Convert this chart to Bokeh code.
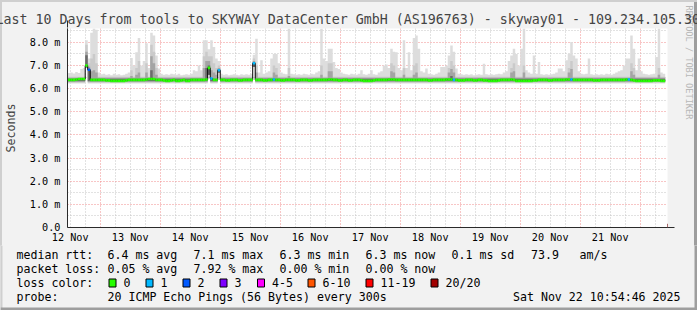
import datetime as dt
from bokeh.plotting import figure
from bokeh.layouts import column
from bokeh.models import (FixedTicker, DatetimeTickFormatter, Title, Arrow, NormalHead,
                          ColumnDataSource, Range1d)
from bokeh.core.properties import value
from bokeh.embed import file_html
from bokeh.resources import INLINE

# ---------------------------------------------------------------- data
TITLE = "Last 10 Days from tools to SKYWAY DataCenter GmbH (AS196763) - skyway01 - 109.234.105.30"
END = dt.datetime(2025, 11, 22, 10, 54, 46)
START = END - dt.timedelta(days=10)
FIRST_BIN = dt.datetime(2025, 11, 12, 11, 0, 0)   # start of the first hourly column

day_labels = ["12 Nov", "13 Nov", "14 Nov", "15 Nov", "16 Nov",
              "17 Nov", "18 Nov", "19 Nov", "20 Nov", "21 Nov"]
y_tick_values = [0, 1, 2, 3, 4, 5, 6, 7, 8]
y_tick_labels = ["0.0", "1.0 m", "2.0 m", "3.0 m", "4.0 m", "5.0 m", "6.0 m", "7.0 m", "8.0 m"]

# median rtt per hour (ms)
median_ms = [
    6.38, 6.38, 6.38, 6.40, 6.42, 6.42, 6.42, 7.00, 6.82, 6.38,
    6.38, 6.38, 6.38, 6.38, 6.38, 6.36, 6.36, 6.34, 6.34, 6.34,
    6.34, 6.34, 6.34, 6.36, 6.38, 6.38, 6.38, 6.38, 6.38, 6.38,
    6.38, 6.40, 6.42, 6.42, 6.42, 6.38, 6.38, 6.38, 6.36, 6.34,
    6.34, 6.36, 6.38, 6.34, 6.34, 6.36, 6.38, 6.34, 6.34, 6.38,
    6.38, 6.38, 6.38, 6.38, 6.38, 6.40, 6.90, 6.44, 6.38, 6.38,
    6.80, 6.38, 6.38, 6.36, 6.36, 6.38, 6.38, 6.38, 6.36, 6.36,
    6.38, 6.38, 6.38, 6.38, 7.10, 6.38, 6.38, 6.38, 6.36, 6.36,
    6.38, 6.38, 6.40, 6.38, 6.38, 6.36, 6.36, 6.38, 6.38, 6.38,
    6.38, 6.36, 6.36, 6.38, 6.38, 6.38, 6.36, 6.36, 6.38, 6.38,
    6.38, 6.38, 6.38, 6.38, 6.40, 6.40, 6.38, 6.38, 6.36, 6.36,
    6.38, 6.38, 6.36, 6.36, 6.38, 6.38, 6.38, 6.36, 6.34, 6.34,
    6.34, 6.34, 6.36, 6.38, 6.38, 6.38, 6.38, 6.38, 6.40, 6.40,
    6.40, 6.38, 6.38, 6.38, 6.38, 6.38, 6.38, 6.38, 6.38, 6.38,
    6.38, 6.38, 6.38, 6.38, 6.36, 6.36, 6.38, 6.38, 6.38, 6.38,
    6.38, 6.40, 6.40, 6.40, 6.38, 6.38, 6.36, 6.36, 6.36, 6.38,
    6.38, 6.38, 6.36, 6.36, 6.38, 6.38, 6.36, 6.36, 6.34, 6.34,
    6.34, 6.34, 6.36, 6.38, 6.38, 6.38, 6.38, 6.40, 6.38, 6.34,
    6.34, 6.34, 6.34, 6.34, 6.34, 6.34, 6.36, 6.36, 6.38, 6.38,
    6.38, 6.38, 6.36, 6.36, 6.38, 6.38, 6.38, 6.38, 6.38, 6.40,
    6.40, 6.40, 6.38, 6.38, 6.38, 6.38, 6.38, 6.38, 6.38, 6.38,
    6.36, 6.36, 6.36, 6.38, 6.38, 6.38, 6.38, 6.38, 6.38, 6.38,
    6.38, 6.38, 6.38, 6.40, 6.40, 6.38, 6.36, 6.34, 6.34, 6.34,
    6.34, 6.34, 6.34, 6.34, 6.36, 6.36, 6.36, 6.34, 6.34,
]

# slowest ping per hour (top of the lightest smoke, ms)
smoke_max = [
    6.68, 6.70, 6.66, 6.72, 6.68, 6.85, 6.90, 8.09, 7.30, 8.42,
    8.60, 8.55, 6.70, 6.62, 6.65, 6.60, 6.62, 6.58, 6.65, 6.60,
    6.62, 6.58, 6.60, 6.65, 6.70, 7.33, 7.00, 7.58, 8.19, 7.00,
    7.20, 7.96, 6.90, 8.42, 8.30, 7.44, 6.87, 6.65, 6.60, 6.62,
    6.60, 6.65, 6.62, 6.60, 6.65, 6.58, 6.60, 6.62, 6.60, 6.65,
    6.80, 6.75, 7.00, 6.80, 8.09, 8.09, 7.70, 8.09, 7.80, 7.30,
    7.20, 6.65, 6.60, 6.62, 6.58, 6.60, 6.62, 6.60, 6.58, 6.62,
    6.60, 6.62, 6.60, 6.65, 7.47, 8.16, 6.70, 7.23, 6.65, 6.70,
    6.75, 7.30, 7.50, 7.50, 7.10, 6.70, 6.65, 6.62, 8.60, 6.65,
    6.62, 6.60, 6.62, 6.60, 6.65, 6.62, 6.60, 6.65, 6.62, 6.70,
    6.75, 8.60, 7.30, 7.20, 7.73, 7.73, 7.15, 6.90, 6.85, 6.70,
    6.65, 6.62, 6.60, 6.65, 6.62, 6.60, 6.65, 6.80, 6.62, 6.60,
    6.65, 6.80, 6.62, 6.60, 6.70, 6.75, 7.00, 7.05, 6.90, 7.73,
    7.60, 7.58, 6.90, 6.80, 8.09, 6.90, 7.58, 6.80, 8.19, 8.30,
    7.73, 6.75, 6.70, 6.87, 6.65, 6.62, 6.60, 6.65, 6.70, 6.94,
    6.94, 7.00, 7.44, 7.87, 7.60, 6.87, 6.65, 6.62, 6.60, 6.62,
    6.60, 6.62, 6.58, 6.60, 6.62, 6.60, 7.08, 6.62, 6.60, 6.62,
    6.60, 6.62, 6.65, 6.62, 6.70, 6.75, 7.20, 7.44, 7.73, 7.50,
    7.00, 7.73, 8.60, 6.80, 6.70, 6.65, 7.44, 6.65, 7.15, 6.62,
    6.60, 6.62, 6.60, 6.62, 6.65, 6.70, 6.87, 6.87, 6.75, 7.23,
    7.50, 8.02, 7.44, 7.30, 6.75, 6.65, 6.62, 6.65, 7.30, 6.62,
    6.60, 6.62, 6.60, 6.62, 6.60, 6.65, 6.62, 6.60, 6.65, 6.70,
    6.75, 6.80, 7.00, 7.30, 7.30, 8.30, 7.73, 6.80, 7.30, 6.75,
    6.65, 6.62, 6.60, 6.62, 6.65, 7.37, 8.60, 6.70, 6.65,
]

# inner smoke levels: usual value and the hours where they rise (ms)
ping19_usual, ping17_usual, ping14_usual = 6.52, 6.47, 6.43
ping19_peaks = {7: 7.9, 8: 7.1, 9: 7.3, 10: 7.5, 11: 7.1, 25: 6.8, 27: 6.9, 28: 7.2, 31: 7.1,
                33: 7.9, 34: 7.6, 35: 6.9, 54: 7.4, 55: 7.6, 56: 7.4, 57: 7.4, 58: 7.1, 59: 6.9,
                60: 7.0, 74: 7.3, 75: 7.0, 82: 7.0, 83: 6.9, 88: 6.9, 101: 7.0, 104: 7.1,
                105: 7.1, 129: 7.1, 130: 7.0, 134: 6.9, 138: 7.0, 139: 7.1, 152: 6.9, 153: 7.2,
                154: 7.0, 177: 6.9, 178: 7.1, 182: 7.0, 200: 6.9, 201: 7.2, 225: 7.1, 226: 6.9,
                236: 6.9}
ping17_peaks = {7: 7.6, 8: 6.95, 9: 6.75, 10: 6.8, 11: 6.7, 25: 6.55, 27: 6.6, 28: 6.7, 31: 6.7,
                33: 7.4, 34: 7.1, 35: 6.6, 54: 6.9, 55: 7.2, 56: 7.2, 57: 6.8, 58: 6.7, 59: 6.6,
                60: 6.9, 74: 7.2, 75: 6.7, 82: 6.7, 83: 6.6, 88: 6.55, 101: 6.6, 104: 6.75,
                105: 6.75, 129: 6.75, 130: 6.7, 134: 6.6, 138: 6.6, 139: 6.7, 152: 6.7, 153: 6.85,
                154: 6.7, 177: 6.7, 178: 6.75, 182: 6.7, 200: 6.7, 201: 6.85, 225: 6.75, 226: 6.6,
                236: 6.6}
ping14_peaks = {7: 7.45, 8: 6.85, 33: 6.8, 55: 6.9, 56: 7.0, 60: 6.85, 74: 7.15, 153: 6.55}
# fastest pings: usual values and the hours where the whole smoke lifted
ping1_usual, ping2_usual, ping4_usual, ping7_usual = 6.23, 6.26, 6.29, 6.33
ping_floor_lifts = {7: 6.92, 56: 6.6, 60: 6.7, 74: 6.95}

# lost pings (of 20) per hour, only hours with loss
loss_hours = {8: 2, 57: 1, 60: 1, 74: 1, 82: 1, 154: 1, 201: 1, 224: 1}

loss_legend = ["0", "1", "2", "3", "4-5", "6-10", "11-19", "20/20"]
loss_colors = ["#26ff00", "#00b8ff", "#0059ff", "#7e00ff", "#ff00ff", "#ff5500", "#ff0000", "#a10000"]
loss_bins = [0, 1, 2, 3, 5, 10, 19, 20]   # upper bound of each legend class

legend_rtt = ["median rtt:", "6.4 ms avg", "7.1 ms max", "6.3 ms min", "6.3 ms now",
              "0.1 ms sd", "73.9", "am/s"]
legend_loss = ["packet loss:", "0.05 % avg", "7.92 % max", "0.00 % min", "0.00 % now"]
legend_probe = ["probe:", "20 ICMP Echo Pings (56 Bytes) every 300s"]
stamp = "Sat Nov 22 10:54:46 2025"
credit = "RRDTOOL / TOBI OETIKER"

# ---------------------------------------------------------------- build
EPOCH = dt.datetime(1970, 1, 1)
def ms(d):
    return (d - EPOCH).total_seconds() * 1000.0

n = len(median_ms)
hour = 3600 * 1000.0
x0 = ms(FIRST_BIN)
lefts = [x0 + k * hour for k in range(n)]
rights = [x0 + (k + 1) * hour for k in range(n)]

def level(usual, peaks):
    return [peaks.get(k, usual) for k in range(n)]

p19 = level(ping19_usual, ping19_peaks)
p17 = level(ping17_usual, ping17_peaks)
p14 = level(ping14_usual, ping14_peaks)
b1 = level(ping1_usual, ping_floor_lifts)
b2 = level(ping2_usual, ping_floor_lifts)
b4 = level(ping4_usual, ping_floor_lifts)
b7 = level(ping7_usual, ping_floor_lifts)

def loss_color(c):
    for ub, col in zip(loss_bins, loss_colors):
        if c <= ub:
            return col
    return loss_colors[-1]

colors = [loss_color(loss_hours.get(k, 0)) for k in range(n)]

xs = lefts + [rights[-1]]
def ext(a):
    return list(a) + [a[-1]]

W, H = 697, 310
FL, FR, FT, FB = 67, 667, 28, 228   # frame edges in page pixels
H1 = 245                             # height of the graph part
BG = "#f2f2f2"
MONO = "DejaVu Sans Mono"

p = figure(width=W, height=H1, x_axis_type="datetime",
           x_range=(ms(START), ms(END)), y_range=(0, (FB - FT) / 23.25),
           output_backend="svg", toolbar_location=None,
           min_border_left=FL, min_border_right=W - FR, min_border_top=FT, min_border_bottom=H1 - FB,
           background_fill_color="white", border_fill_color=None, outline_line_color=None)
p.frame_align = False

smoke_src = ColumnDataSource(dict(x=xs, b1=ext(b1), top1=ext(smoke_max), b2=ext(b2), top2=ext(p19),
                                  b4=ext(b4), top4=ext(p17), b7=ext(b7), top7=ext(p14)))
for lo, hi, col in [("b1", "top1", "#dddddd"), ("b2", "top2", "#cacaca"),
                    ("b4", "top4", "#a4a4a4"), ("b7", "top7", "#6b6b6b")]:
    p.varea_step(x="x", y1=lo, y2=hi, step_mode="after", source=smoke_src, fill_color=col)

p.step(x=xs, y=ext(median_ms), mode="after", line_color="black", line_width=1)
med_src = ColumnDataSource(dict(x0=lefts, x1=rights, y=median_ms, c=colors))
p.segment(x0="x0", y0="y", x1="x1", y1="y", line_color="c", line_width=2.6, source=med_src)

# ---------------------------------------------------------------- axes & grid
days = [dt.datetime(2025, 11, 12) + dt.timedelta(days=i) for i in range(11)]
noons = [ms(d + dt.timedelta(hours=12)) for d in days[:len(day_labels)]]
midnights = [ms(d) for d in days[1:]]
six_h = []
t = dt.datetime(2025, 11, 12, 12)
while t < END:
    if t.hour != 0:
        six_h.append(ms(t))
    t += dt.timedelta(hours=6)

xa = p.xaxis[0]
xa.ticker = FixedTicker(ticks=noons, minor_ticks=[])
xa.formatter = DatetimeTickFormatter(hours="%d %b", days="%d %b", months="%d %b", years="%d %b")
ya = p.yaxis[0]
ya.ticker = FixedTicker(ticks=y_tick_values, minor_ticks=[])
ya.major_label_overrides = {v: s for v, s in zip(y_tick_values, y_tick_labels)}
ya.axis_label = "Seconds"
ya.axis_label_text_font = MONO
ya.axis_label_text_font_size = "11.6px"
ya.axis_label_text_font_style = "normal"
ya.axis_label_standoff = 9
for ax, so in [(xa, 4), (ya, 7)]:
    ax.major_label_text_font = MONO
    ax.major_label_text_font_size = "10.2px"
    ax.major_label_text_color = "black"
    ax.major_label_standoff = so
    ax.major_tick_out = 0
    ax.major_tick_in = 0
    ax.minor_tick_out = 0
    ax.minor_tick_in = 0
    ax.axis_line_color = "#2b2b2b"

xg = p.xgrid[0]
xg.ticker = FixedTicker(ticks=midnights, minor_ticks=six_h)
yg = p.ygrid[0]
yg.ticker = FixedTicker(ticks=[1, 2, 3, 4, 5, 6, 7, 8], minor_ticks=[0.5, 1.5, 2.5, 3.5, 4.5, 5.5, 6.5, 7.5, 8.5])
for g in (xg, yg):
    g.grid_line_color = "#f08c8c"
    g.grid_line_dash = "1 2"
    g.minor_grid_line_color = "#c4c4c4"
    g.minor_grid_line_dash = "1 2"

p.title.text = TITLE
p.title.align = "left"
p.title.offset = -72
p.title.text_font = MONO
p.title.text_font_size = "13.3px"
p.title.text_font_style = "normal"
p.title.standoff = 4

# right margin: an empty spacer title pushes the credit line outward
p.add_layout(Title(text=" ", text_font=MONO, text_font_size="8px", standoff=4), "right")
p.add_layout(Title(text=credit, align="left", offset=-23, text_font=MONO, text_font_size="8.6px",
                   text_color="#b8b8b8", text_font_style="normal", standoff=2), "right")

arrow_col = "#7f1f1f"
p.add_layout(Arrow(x_start=0, y_start=0, x_end=0, y_end=FB - 21, start_units="screen", end_units="screen",
                   line_color="#2b2b2b", line_width=1,
                   end=NormalHead(size=7, fill_color=arrow_col, line_color=arrow_col)))
p.add_layout(Arrow(x_start=0, y_start=0, x_end=674 - FL, y_end=0, start_units="screen", end_units="screen",
                   line_color="#2b2b2b", line_width=1,
                   end=NormalHead(size=7, fill_color=arrow_col, line_color=arrow_col)))

# ---------------------------------------------------------------- legend strip (page pixel coordinates)
lg = figure(width=W, height=H - H1, x_range=Range1d(0, W), y_range=Range1d(H, H1),
            output_backend="svg", toolbar_location=None, x_axis_location=None, y_axis_location=None,
            min_border_left=0, min_border_right=0, min_border_top=0, min_border_bottom=0,
            background_fill_color=BG, border_fill_color=BG, outline_line_color=None)
lg.frame_align = False
lg.grid.visible = False

col_x = [16, 107, 193, 279, 365, 451, 530.5, 579]
box_x = [108, 145, 182, 219, 256.5, 307, 365, 430]
tx, ty, tt = [], [], []
for X, s in zip(col_x, legend_rtt):
    tx.append(X); ty.append(254); tt.append(s)
for X, s in zip(col_x, legend_loss):
    tx.append(X); ty.append(268); tt.append(s)
tx.append(16); ty.append(282); tt.append("loss color:")
for X, s in zip(box_x, loss_legend):
    tx.append(X + 15); ty.append(282); tt.append(s)
tx += [16, 107]; ty += [296, 296]; tt += legend_probe
lg.text(x=tx, y=ty, text=tt, text_font=value(MONO), text_font_size=value("11.6px"),
        text_baseline="middle", text_align="left", text_color="black")
lg.text(x=[680], y=[296], text=[stamp], text_font=value(MONO), text_font_size=value("11.6px"),
        text_baseline="middle", text_align="right", text_color="black")
lg.quad(left=[X + 0.5 for X in box_x], right=[X + 7.5 for X in box_x],
        top=[278.5] * len(box_x), bottom=[286.5] * len(box_x),
        fill_color=loss_colors, line_color="black", line_width=1)
# 3-D page frame: light left, dark right and bottom
lg.quad(left=[0, W - 3, 0], right=[2, W, W], top=[H1, H1, H - 3], bottom=[H, H, H],
        fill_color=["#cfcfcf", "#9e9e9e", "#9e9e9e"], line_color=None)

page = column(p, lg, spacing=0,
              styles={"background-color": BG,
                      "box-shadow": "inset 2px 2px 0 #cfcfcf, inset -3px 0 0 #9e9e9e"})

open("out.html", "w").write(file_html(page, INLINE))
